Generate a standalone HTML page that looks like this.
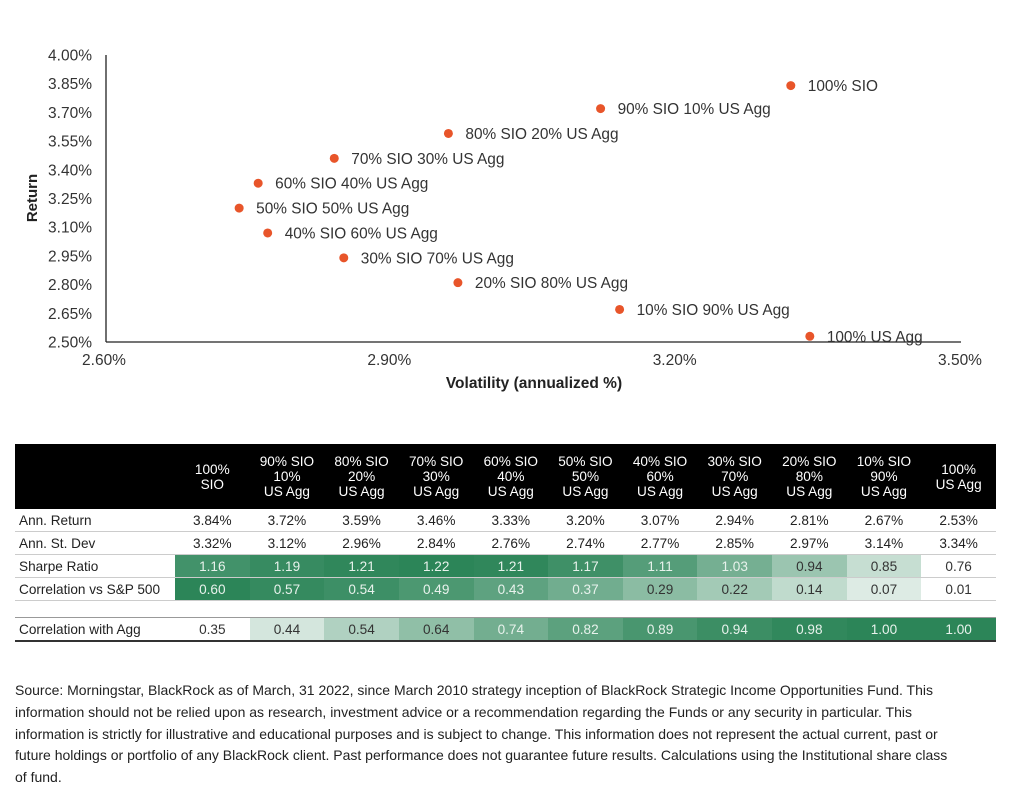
<!DOCTYPE html>
<html><head><meta charset="utf-8"><style>
body{margin:0;background:#fff;font-family:"Liberation Sans",sans-serif;color:#222;}
#wrap{position:relative;width:1016px;height:800px;overflow:hidden;}
table{position:absolute;left:15px;top:444px;border-collapse:collapse;width:981px;font-size:13.6px;table-layout:fixed;}
th{background:#000;color:#fff;font-weight:normal;height:65px;line-height:15px;padding:0;text-align:center;vertical-align:middle;}
td{height:22px;padding:0;text-align:center;border-bottom:1.5px solid #ccc;}
td.l{text-align:left;padding-left:4px;}
tr.gap td{height:16px;border:none;}
tr.last td{border-top:1.5px solid #999;border-bottom:2px solid #333;}
#note{position:absolute;left:15px;top:680px;width:1000px;font-size:14px;line-height:21.8px;color:#222;white-space:nowrap;}
</style></head><body><div id="wrap">
<svg id="chart" width="1016" height="400" style="position:absolute;left:0;top:0"></svg>
<table>
<colgroup><col style="width:160px"></colgroup>
<thead><tr><th></th>
<th>100%<br>SIO</th><th>90% SIO<br>10%<br>US Agg</th><th>80% SIO<br>20%<br>US Agg</th><th>70% SIO<br>30%<br>US Agg</th><th>60% SIO<br>40%<br>US Agg</th><th>50% SIO<br>50%<br>US Agg</th><th>40% SIO<br>60%<br>US Agg</th><th>30% SIO<br>70%<br>US Agg</th><th>20% SIO<br>80%<br>US Agg</th><th>10% SIO<br>90%<br>US Agg</th><th>100%<br>US Agg</th></tr></thead>
<tbody id="tb"></tbody></table>
<div id="note">Source: Morningstar, BlackRock as of March, 31 2022, since March 2010 strategy inception of BlackRock Strategic Income Opportunities Fund. This<br>information should not be relied upon as research, investment advice or a recommendation regarding the Funds or any security in particular. This<br>information is strictly for illustrative and educational purposes and is subject to change. This information does not represent the actual current, past or<br>future holdings or portfolio of any BlackRock client. Past performance does not guarantee future results. Calculations using the Institutional share class<br>of fund.</div>
</div>
<script>
const labels=["100% SIO","90% SIO 10% US Agg","80% SIO 20% US Agg","70% SIO 30% US Agg","60% SIO 40% US Agg","50% SIO 50% US Agg","40% SIO 60% US Agg","30% SIO 70% US Agg","20% SIO 80% US Agg","10% SIO 90% US Agg","100% US Agg"];
const ret=[3.84,3.72,3.59,3.46,3.33,3.20,3.07,2.94,2.81,2.67,2.53];
const vol=[3.32,3.12,2.96,2.84,2.76,2.74,2.77,2.85,2.97,3.14,3.34];
const sharpe=[1.16,1.19,1.21,1.22,1.21,1.17,1.11,1.03,0.94,0.85,0.76];
const corrSP=[0.60,0.57,0.54,0.49,0.43,0.37,0.29,0.22,0.14,0.07,0.01];
const corrAgg=[0.35,0.44,0.54,0.64,0.74,0.82,0.89,0.94,0.98,1.00,1.00];
const yTicks=[2.50,2.65,2.80,2.95,3.10,3.25,3.40,3.55,3.70,3.85,4.00];
const xTicks=[2.60,2.90,3.20,3.50];

const NS="http://www.w3.org/2000/svg";const svg=document.getElementById('chart');
const X=v=>106+(v-2.60)/0.90*856, Y=v=>342-(v-2.50)/1.50*287;
function mk(t,a,txt){const e=document.createElementNS(NS,t);for(const k in a)e.setAttribute(k,a[k]);if(txt!=null)e.textContent=txt;svg.appendChild(e);return e;}
let e=mk('line',{x1:106,y1:55,x2:106,y2:342,stroke:'#222','stroke-width':1.3});


e=mk('line',{x1:106,y1:342,x2:961,y2:342,stroke:'#222','stroke-width':1.3});


yTicks.forEach(v=>{const t=mk('text',{x:92,y:Y(v)+5.5,'text-anchor':'end','font-size':15.5,fill:'#333'},v.toFixed(2)+'%');

});
xTicks.forEach(v=>{const t=mk('text',{x:X(v)-2,y:365,'text-anchor':'middle','font-size':15.5,fill:'#333'},v.toFixed(2)+'%');

});
e=mk('text',{x:534,y:388,'text-anchor':'middle','font-size':15.5,'font-weight':'bold',fill:'#222'},'Volatility (annualized %)');


e=mk('text',{x:0,y:0,transform:'translate(37,198) rotate(-90)','text-anchor':'middle','font-size':15,'font-weight':'bold',fill:'#222'},'Return');


labels.forEach((l,i)=>{const c=mk('circle',{cx:X(vol[i]),cy:Y(ret[i]),r:4.5,fill:'#e8552a'});


const t=mk('text',{x:X(vol[i])+17,y:Y(ret[i])+5.5,'font-size':15.4,fill:'#333'},l);

});

const rows=[["Ann. Return",ret.map(v=>v.toFixed(2)+'%'),null],["Ann. St. Dev",vol.map(v=>v.toFixed(2)+'%'),null],["Sharpe Ratio",sharpe,sharpe],["Correlation vs S&P 500",corrSP,corrSP],["gap"],["Correlation with Agg",corrAgg,corrAgg]];
const tb=document.getElementById('tb');
function col(v,arr){const mn=Math.min(...arr),mx=Math.max(...arr);const f=Math.pow((v-mn)/(mx-mn),0.8);
const a=[255,255,255],b=[44,133,88];return 'rgb('+a.map((x,i)=>Math.round(x+(b[i]-x)*f)).join(',')+')';}
rows.forEach((r,ri)=>{const tr=document.createElement('tr');


if(r[0]==='gap'){tr.className='gap';tr.innerHTML='<td colspan="12"></td>';tb.appendChild(tr);return;}
if(ri===5)tr.className='last';
const l=document.createElement('td');l.className='l';l.textContent=r[0];tr.appendChild(l);
r[1].forEach(v=>{const td=document.createElement('td');


td.textContent=typeof v==='number'?v.toFixed(2):v;
if(r[2]){td.style.background=col(v,r[2]);const f=(v-Math.min(...r[2]))/(Math.max(...r[2])-Math.min(...r[2]));td.style.color=f>0.55?'#e8f2ec':'#333';}
tr.appendChild(td);});tb.appendChild(tr);});
</script></body></html>
